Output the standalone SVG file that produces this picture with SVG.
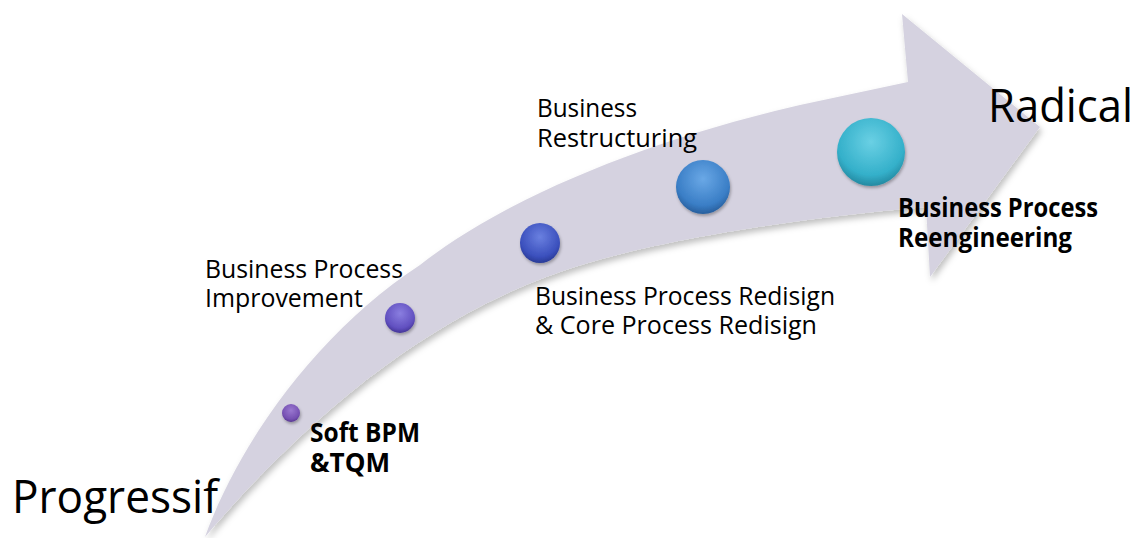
<svg xmlns="http://www.w3.org/2000/svg" width="1140" height="538" viewBox="0 0 1140 538">
<defs>
<filter id="shadow" x="-10%" y="-10%" width="130%" height="130%">
<feDropShadow dx="2" dy="4" stdDeviation="3" flood-color="#000" flood-opacity="0.25"/>
</filter>
<filter id="bshadow" x="-30%" y="-30%" width="160%" height="160%">
<feDropShadow dx="1" dy="2" stdDeviation="1.5" flood-color="#000" flood-opacity="0.3"/>
</filter>
<radialGradient id="g1" cx="0.5" cy="0.35" r="0.7">
<stop offset="0" stop-color="#9a78d0"/><stop offset="0.7" stop-color="#7550b2"/><stop offset="1" stop-color="#4d2f85"/>
</radialGradient>
<radialGradient id="g2" cx="0.5" cy="0.35" r="0.7">
<stop offset="0" stop-color="#8a7ee0"/><stop offset="0.7" stop-color="#6150c0"/><stop offset="1" stop-color="#3b2c8a"/>
</radialGradient>
<radialGradient id="g3" cx="0.5" cy="0.35" r="0.7">
<stop offset="0" stop-color="#6a80e0"/><stop offset="0.7" stop-color="#3b50bd"/><stop offset="1" stop-color="#23338a"/>
</radialGradient>
<radialGradient id="g4" cx="0.5" cy="0.35" r="0.7">
<stop offset="0" stop-color="#6aa8e6"/><stop offset="0.7" stop-color="#3a7ec6"/><stop offset="1" stop-color="#22548f"/>
</radialGradient>
<radialGradient id="g5" cx="0.5" cy="0.35" r="0.7">
<stop offset="0" stop-color="#6ad0e4"/><stop offset="0.7" stop-color="#34b0ca"/><stop offset="1" stop-color="#1f7d94"/>
</radialGradient>
<style>
.t{font-family:"Open Sans","Noto Sans",sans-serif;font-size:26px;fill:#000}
.b{font-weight:bold}
.big{font-family:"Open Sans","Noto Sans",sans-serif;font-size:45px;fill:#000}
</style>
</defs>
<g id="connectors">
<path id="arrow" filter="url(#shadow)" fill="#d5d2e0" d="M 205,537 C 240,440 320,330 420,265 C 510,195 650,140 800,105 L 908,82 L 902,14 L 1040,127 L 930,277 L 926,207 C 800,218 650,240 560,272 C 450,310 330,390 205,537 Z"/>
</g>
<g id="node-progressif"><text class="big" x="12" y="513" textLength="206" lengthAdjust="spacingAndGlyphs">Progressif</text></g>
<g id="node-radical"><text class="big" x="988" y="122" textLength="145" lengthAdjust="spacingAndGlyphs">Radical</text></g>
<g id="node-soft">
<circle cx="291" cy="413" r="9" fill="url(#g1)" filter="url(#bshadow)"/>
<text class="t b" x="310" y="442" textLength="110" lengthAdjust="spacingAndGlyphs">Soft BPM</text>
<text class="t b" x="310" y="472" textLength="80" lengthAdjust="spacingAndGlyphs">&amp;TQM</text>
</g>
<g id="node-bpi">
<circle cx="400" cy="318" r="15" fill="url(#g2)" filter="url(#bshadow)"/>
<text class="t" x="205" y="278" textLength="198" lengthAdjust="spacingAndGlyphs">Business Process</text>
<text class="t" x="205" y="307" textLength="158" lengthAdjust="spacingAndGlyphs">Improvement</text>
</g>
<g id="node-bpr">
<circle cx="540" cy="243" r="20" fill="url(#g3)" filter="url(#bshadow)"/>
<text class="t" x="535" y="305" textLength="300" lengthAdjust="spacingAndGlyphs">Business Process Redisign</text>
<text class="t" x="535" y="334" textLength="282" lengthAdjust="spacingAndGlyphs">&amp; Core Process Redisign</text>
</g>
<g id="node-restructuring">
<circle cx="703" cy="187" r="27" fill="url(#g4)" filter="url(#bshadow)"/>
<text class="t" x="537" y="117" textLength="100" lengthAdjust="spacingAndGlyphs">Business</text>
<text class="t" x="537" y="147" textLength="160" lengthAdjust="spacingAndGlyphs">Restructuring</text>
</g>
<g id="node-reengineering">
<circle cx="871" cy="152" r="34" fill="url(#g5)" filter="url(#bshadow)"/>
<text class="t b" x="898" y="217" textLength="200" lengthAdjust="spacingAndGlyphs">Business Process</text>
<text class="t b" x="898" y="247" textLength="174" lengthAdjust="spacingAndGlyphs">Reengineering</text>
</g>
</svg>
